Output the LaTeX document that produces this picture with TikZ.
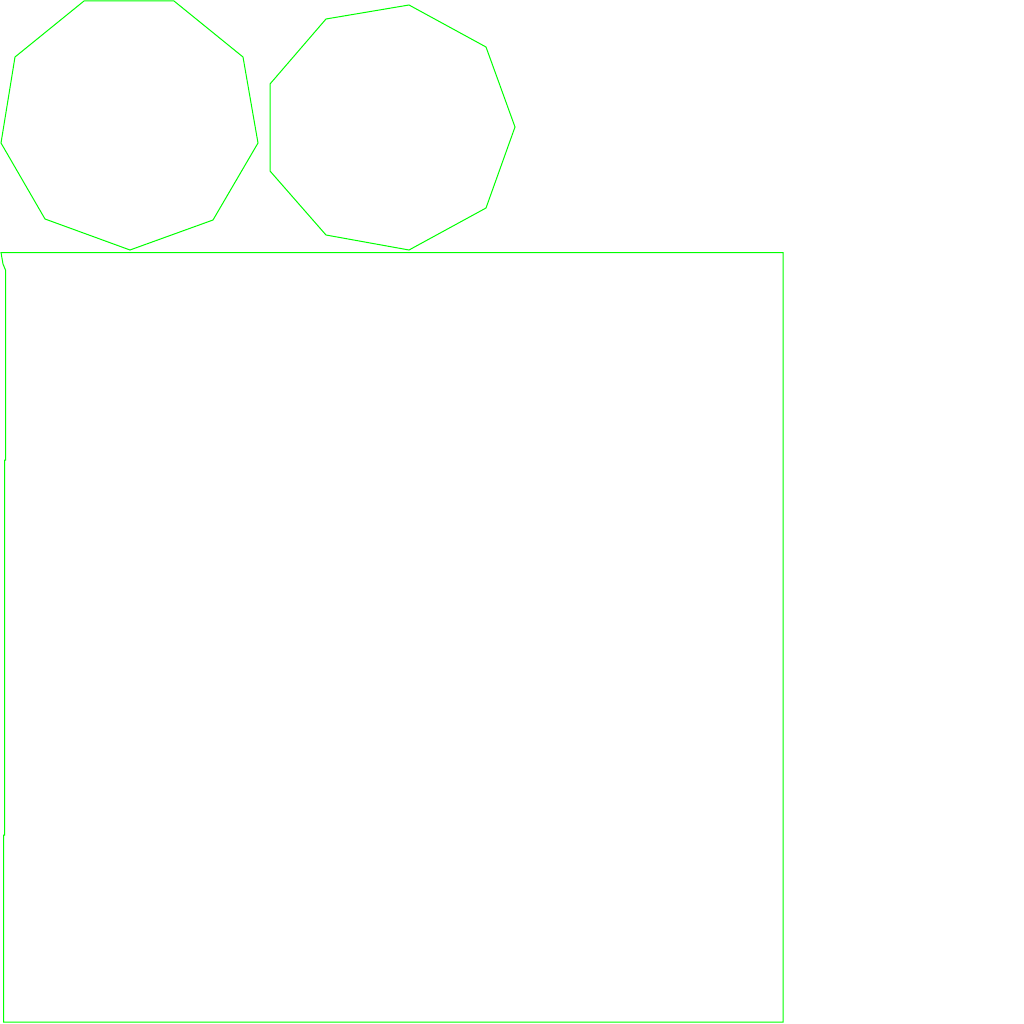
\documentclass[tikz,border=0pt]{standalone}
\usetikzlibrary{}
\begin{document}
\begin{tikzpicture}[x=1pt,y=-1pt,
  outline/.style={draw={rgb,255:red,0;green,255;blue,0},line width=1pt,line join=miter}]
\useasboundingbox (0,0) rectangle (1024,1024);
% left nonagon
\draw[outline] (84,1) -- (174,1) -- (243,57) -- (258,143) -- (213,220) -- (130,250) -- (45,219) -- (1,143) -- (15,57) -- cycle;
% right nonagon
\draw[outline] (326,19) -- (409,5) -- (486,47) -- (515,127) -- (486,208) -- (409,250) -- (326,235) -- (270,171) -- (270,84) -- cycle;
% big box
\draw[outline] (1,252.5) -- (783,252.5) -- (783,1022) -- (3.5,1022) -- (3.5,835) -- (4.5,835) -- (4.5,460) -- (5.5,460) -- (5.5,270) -- (3,264) -- cycle;
\end{tikzpicture}
\end{document}
